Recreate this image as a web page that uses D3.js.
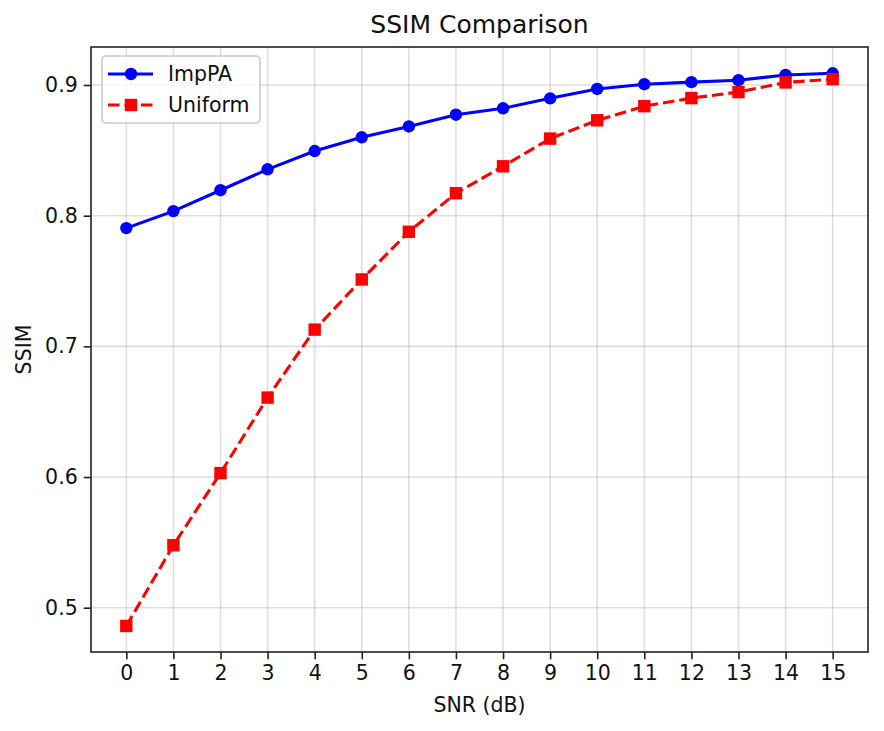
<!DOCTYPE html>
<html>
<head>
<meta charset="utf-8">
<script src="https://cdn.jsdelivr.net/npm/d3@7"></script>
<style>
  html, body { margin: 0; padding: 0; background: #fff; }
  svg { display: block; font-family: "DejaVu Sans", sans-serif; }
</style>
</head>
<body>
<div id="chart"></div>
<script>
// values
const snr = [0, 1, 2, 3, 4, 5, 6, 7, 8, 9, 10, 11, 12, 13, 14, 15];
const impPA = [0.7905, 0.8035, 0.8195, 0.8355, 0.8495, 0.8600, 0.8683, 0.8773, 0.8822, 0.8898, 0.8970, 0.9006, 0.9022, 0.9037, 0.9077, 0.9090];
const uniform = [0.4860, 0.5478, 0.6030, 0.6608, 0.7128, 0.7512, 0.7877, 0.8172, 0.8378, 0.8590, 0.8730, 0.8838, 0.8900, 0.8946, 0.9020, 0.9045];
const yTicks = [0.5, 0.6, 0.7, 0.8, 0.9];

const W = 884, H = 731;
const m = { t: 47, r: 16, b: 79, l: 91 };

const svg = d3.select('#chart').append('svg').attr('width', W).attr('height', H);

const x = d3.scaleLinear().domain([-0.75, 15.75]).range([m.l, W - m.r]);
const y = d3.scaleLinear().domain([0.4661, 0.9291]).range([H - m.b, m.t]);

// grid
const grid = svg.append('g').attr('stroke', '#b0b0b0').attr('stroke-opacity', 0.4).attr('stroke-width', 1.6);
grid.selectAll('line.gx').data(snr).join('line').attr('class', 'gx')
  .attr('x1', d => x(d)).attr('x2', d => x(d)).attr('y1', m.t).attr('y2', H - m.b);
grid.selectAll('line.gy').data(yTicks).join('line').attr('class', 'gy')
  .attr('x1', m.l).attr('x2', W - m.r).attr('y1', d => y(d)).attr('y2', d => y(d));

// axes
const ax = svg.append('g').attr('transform', `translate(0,${H - m.b})`)
  .call(d3.axisBottom(x).tickValues(snr).tickFormat(d3.format('d')).tickSize(7.3).tickPadding(6));
const ay = svg.append('g').attr('transform', `translate(${m.l},0)`)
  .call(d3.axisLeft(y).tickValues(yTicks).tickFormat(d3.format('.1f')).tickSize(7.3).tickPadding(6));
[ax, ay].forEach(g => {
  g.select('.domain').remove();
  g.selectAll('line').attr('stroke', '#222').attr('stroke-width', 1.6);
  g.selectAll('text').attr('font-size', 20.5).attr('fill', '#111').attr('font-family', '"DejaVu Sans", sans-serif');
});

// frame
svg.append('rect').attr('x', m.l).attr('y', m.t)
  .attr('width', W - m.r - m.l).attr('height', H - m.b - m.t)
  .attr('fill', 'none').attr('stroke', '#222').attr('stroke-width', 1.6);

// series
const line = vals => d3.line().x((d, i) => x(snr[i])).y(d => y(d))(vals);

svg.append('path').attr('d', line(impPA)).attr('fill', 'none')
  .attr('stroke', '#0000ff').attr('stroke-width', 3.1);
svg.append('g').selectAll('circle').data(impPA).join('circle')
  .attr('cx', (d, i) => x(snr[i])).attr('cy', d => y(d)).attr('r', 6.2).attr('fill', '#0000ff');

svg.append('path').attr('d', line(uniform)).attr('fill', 'none')
  .attr('stroke', '#ff0000').attr('stroke-width', 3.1).attr('stroke-dasharray', '11.5,5');
const sq = 12.4;
svg.append('g').selectAll('rect').data(uniform).join('rect')
  .attr('x', (d, i) => x(snr[i]) - sq / 2).attr('y', d => y(d) - sq / 2)
  .attr('width', sq).attr('height', sq).attr('fill', '#ff0000');

// title and labels
svg.append('text').attr('x', (m.l + W - m.r) / 2).attr('y', 33).attr('text-anchor', 'middle')
  .attr('font-size', 25).attr('fill', '#111').text('SSIM Comparison');
svg.append('text').attr('x', (m.l + W - m.r) / 2).attr('y', 712).attr('text-anchor', 'middle')
  .attr('font-size', 20.5).attr('fill', '#111').text('SNR (dB)');
svg.append('text').attr('transform', `translate(31,${(m.t + H - m.b) / 2}) rotate(-90)`)
  .attr('text-anchor', 'middle').attr('font-size', 20.5).attr('fill', '#111').text('SSIM');

// legend
const lg = svg.append('g').attr('transform', 'translate(102,56)');
lg.append('rect').attr('width', 158).attr('height', 67).attr('rx', 4)
  .attr('fill', '#fff').attr('fill-opacity', 0.8).attr('stroke', '#cccccc').attr('stroke-width', 1.6);
const items = [
  { name: 'ImpPA', color: '#0000ff', dash: null, shape: 'circle' },
  { name: 'Uniform', color: '#ff0000', dash: '11.5,5', shape: 'square' }
];
items.forEach((it, i) => {
  const cy = 18 + i * 31;
  lg.append('line').attr('x1', 6).attr('x2', 51).attr('y1', cy).attr('y2', cy)
    .attr('stroke', it.color).attr('stroke-width', 3.1).attr('stroke-dasharray', it.dash);
  if (it.shape === 'circle') {
    lg.append('circle').attr('cx', 29).attr('cy', cy).attr('r', 6.2).attr('fill', it.color);
  } else {
    lg.append('rect').attr('x', 29 - sq / 2).attr('y', cy - sq / 2).attr('width', sq).attr('height', sq).attr('fill', it.color);
  }
  lg.append('text').attr('x', 66).attr('y', cy + 7).attr('font-size', 20.5).attr('fill', '#111').text(it.name);
});
</script>
</body>
</html>
